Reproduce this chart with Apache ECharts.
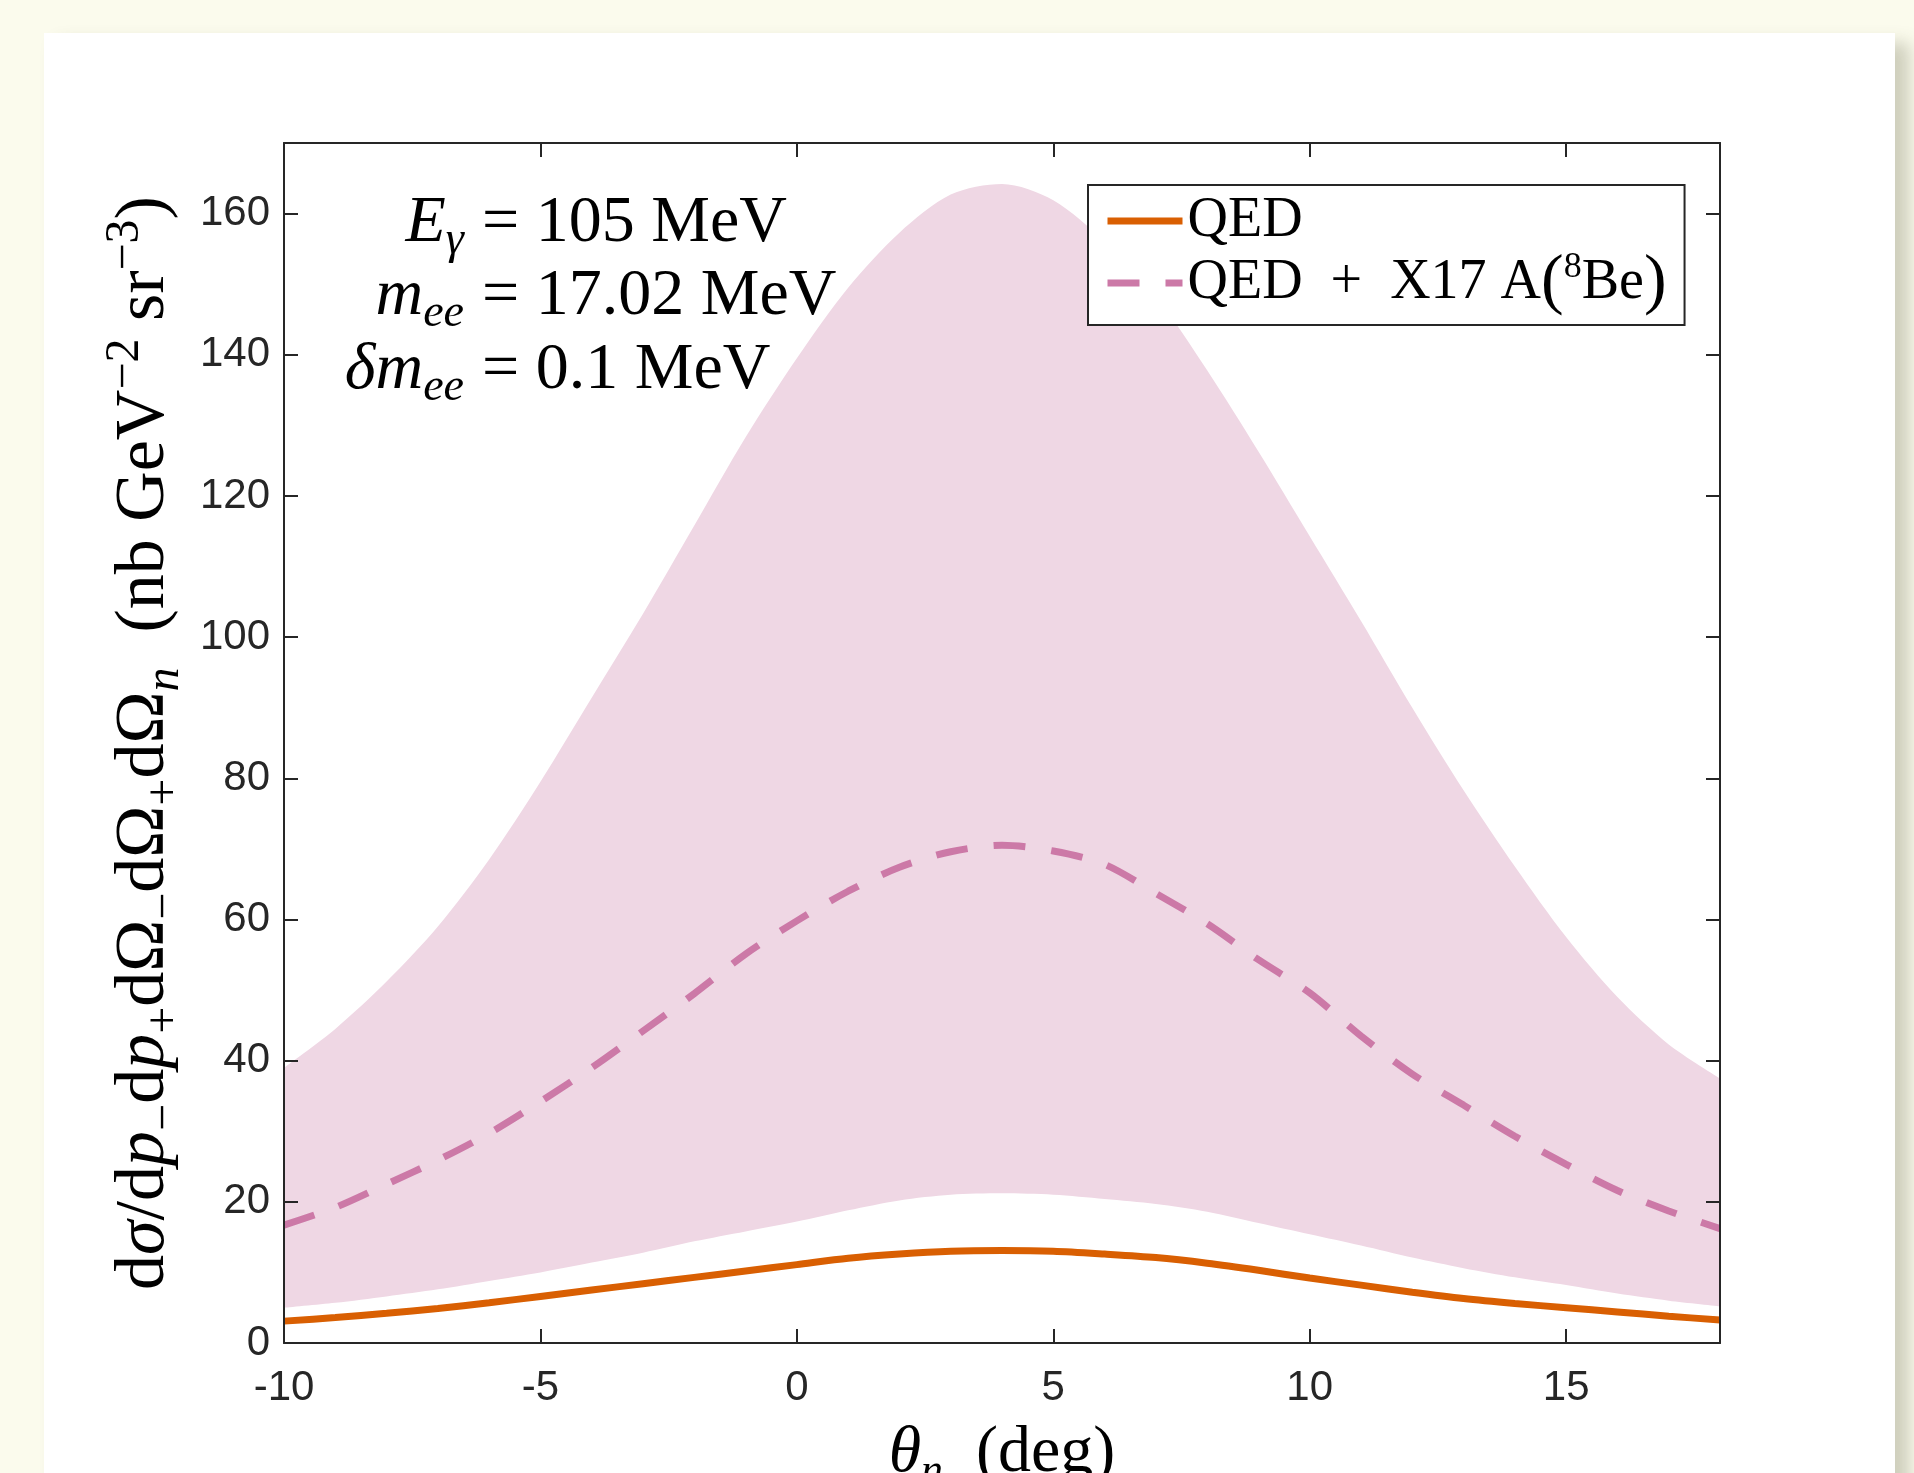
<!DOCTYPE html>
<html>
<head>
<meta charset="utf-8">
<title>X17 angular distribution</title>
<script src="https://cdn.jsdelivr.net/npm/echarts@6/dist/echarts.min.js"></script>
<style>
  html, body { margin: 0; padding: 0; background: #fbfbed; overflow: hidden; }
  #card { position: absolute; left: 44px; top: 33px; width: 1851px; height: 1520px; background: #fff;
          box-shadow: 14px 10px 16px rgba(90, 90, 60, 0.28); }
  #chart { position: absolute; left: 0; top: 0; width: 1914px; height: 1473px; }
</style>
</head>
<body>
<div id="card"></div>
<div id="chart"></div>
<script>
// angle theta_n (deg)
const thetaDeg = [-10, -9, -8, -7, -6, -5, -4, -3, -2, -1, 0, 1, 2, 3, 4,
                  5, 6, 7, 8, 9, 10, 11, 12, 13, 14, 15, 16, 17, 18];
// QED only
const qed = [3.1, 3.6, 4.2, 4.9, 5.7, 6.6, 7.5, 8.4, 9.3, 10.2, 11.1, 12.0, 12.6, 13.0, 13.1,
             13.0, 12.6, 12.1, 11.3, 10.3, 9.2, 8.2, 7.2, 6.3, 5.6, 5.0, 4.4, 3.8, 3.25];
// QED + X17 A(8Be), central value
const qedX17 = [16.7, 19.2, 22.5, 25.9, 29.7, 34.2, 39.0, 44.2, 49.5, 55.1, 59.8, 64.0, 67.4, 69.6, 70.5,
                69.7, 67.8, 63.7, 59.4, 54.3, 49.6, 43.5, 38.1, 33.7, 29.3, 25.3, 21.6, 18.7, 16.2];
// uncertainty band
const bandLow = [5.0, 5.7, 6.6, 7.6, 8.8, 10.0, 11.4, 12.8, 14.4, 15.8, 17.2, 18.8, 20.2, 21.0, 21.2,
                 21.0, 20.4, 19.7, 18.6, 17.0, 15.4, 13.8, 12.1, 10.6, 9.3, 8.2, 7.0, 6.0, 5.2];
const bandHigh = [39, 44.5, 51.2, 59, 68.5, 79.5, 91.4, 103.3, 115.8, 128.3, 139.5, 149.5, 157.3, 162.7, 164.2,
                  161.9, 156, 148.3, 137.8, 126.3, 114.3, 102.3, 90, 78.3, 67.5, 57.5, 49, 42.3, 37.5];

const annLeft = ['{i|E}{sub|γ}', '{i|m}{sub|ee}', '{i|δm}{sub|ee}'];
const annRight = ['{r|= 105 MeV}', '{r|= 17.02 MeV}', '{r|= 0.1 MeV}'];

const SERIF = 'Liberation Serif';
const SANS = 'Liberation Sans';
const AX = '#262626';

// rich styles for the math-like text
function mathRich(size, lh, subSize, subLh, supLh) {
  return {
    r:    { fontFamily: SERIF, fontSize: size, lineHeight: lh, color: '#000' },
    i:    { fontFamily: SERIF, fontStyle: 'italic', fontSize: size, lineHeight: lh, color: '#000' },
    sub:  { fontFamily: SERIF, fontStyle: 'italic', fontSize: subSize, lineHeight: subLh, verticalAlign: 'bottom', color: '#000' },
    subr: { fontFamily: SERIF, fontSize: subSize, lineHeight: subLh, verticalAlign: 'bottom', color: '#000' },
    sup:  { fontFamily: SERIF, fontSize: subSize, lineHeight: supLh, verticalAlign: 'top', color: '#000' }
  };
}
const annRich = mathRich(66, 80, 46, 50, 44);
const yNameRich = mathRich(70, 88, 48, 54, 48);
const xNameRich = mathRich(66, 80, 44, 50, 44);

const pair = (arr) => thetaDeg.map((t, i) => [t, arr[i]]);

const chart = echarts.init(document.getElementById('chart'));

const annGraphics = [];
const baselines = [243, 316, 390];
baselines.forEach((b, k) => {
  annGraphics.push({
    type: 'text', x: 464, y: b - 59, z: 50,
    style: { text: annLeft[k], rich: annRich, align: 'right', verticalAlign: 'top' }
  });
  annGraphics.push({
    type: 'text', x: 482, y: b - 59, z: 50,
    style: { text: annRight[k], rich: annRich, align: 'left', verticalAlign: 'top' }
  });
});

const boxAxis = {
  axisLabel: { show: false },
  axisTick: { inside: true, length: 14, lineStyle: { color: AX, width: 2 } },
  axisLine: { show: true, onZero: false, lineStyle: { color: AX, width: 2 } },
  splitLine: { show: false },
  z: 10
};

const option = {
  animation: false,
  backgroundColor: 'transparent',
  grid: { left: 284, top: 143, width: 1436, height: 1200, containLabel: false, outerBoundsMode: 'none' },
  xAxis: [{
    type: 'value', min: -10, max: 18, interval: 5, position: 'bottom', z: 10,
    axisLine: { show: true, onZero: false, lineStyle: { color: AX, width: 2 } },
    axisTick: { inside: true, length: 14, lineStyle: { color: AX, width: 2 } },
    axisLabel: { margin: 24, fontFamily: SANS, fontSize: 42, color: AX, showMaxLabel: false },
    splitLine: { show: false },
    name: '{i|θ}{sub|n}{r|  (deg)}', nameLocation: 'middle', nameGap: 71,
    nameTextStyle: { rich: xNameRich }
  }, Object.assign({ type: 'value', min: -10, max: 18, interval: 5, position: 'top' }, boxAxis)],
  yAxis: [{
    type: 'value', min: 0, max: 170, interval: 20, position: 'left', z: 10,
    axisLine: { show: true, onZero: false, lineStyle: { color: AX, width: 2 } },
    axisTick: { inside: true, length: 14, lineStyle: { color: AX, width: 2 } },
    axisLabel: { margin: 14, fontFamily: SANS, fontSize: 42, color: AX, showMaxLabel: false },
    splitLine: { show: false },
    name: '{r|d}{i|σ}{r|/d}{i|p}{subr|−}{r|d}{i|p}{subr|+}{r|dΩ}{subr|−}{r|dΩ}{subr|+}{r|dΩ}{sub|n}{r|  (nb GeV}{sup|−2}{r| sr}{sup|−3}{r|)}',
    nameLocation: 'middle', nameRotate: 90, nameGap: 81,
    nameTextStyle: { rich: yNameRich }
  }, Object.assign({ type: 'value', min: 0, max: 170, interval: 20, position: 'right' }, boxAxis)],
  legend: {
    orient: 'vertical', left: 1088, top: 185,
    data: ['QED', 'QED + X17 A(8Be)'],
    selectedMode: false,
    backgroundColor: '#fff', borderColor: AX, borderWidth: 2,
    padding: [8, 18, 8, 16], itemGap: 0, itemWidth: 75, itemHeight: 20, itemTextGap: 13,
    lineStyle: { width: 7 },
    itemStyle: { opacity: 0 },
    formatter: (name) => name === 'QED'
      ? '{a|QED}'
      : '{a|QED  +  X17 A}{p|(}{s|8}{a|Be}{p|)}',
    textStyle: {
      rich: {
        a: { fontFamily: SERIF, fontSize: 56, lineHeight: 66, color: '#000' },
        p: { fontFamily: SERIF, fontSize: 68, lineHeight: 66, color: '#000' },
        s: { fontFamily: SERIF, fontSize: 36, lineHeight: 46, verticalAlign: 'top', color: '#000' }
      }
    }
  },
  graphic: annGraphics,
  series: [
    {
      // upper edge of the band, filled down to the axis
      name: 'bandHigh', type: 'line', smooth: 0.3, symbol: 'none',
      data: pair(bandHigh), lineStyle: { width: 0, opacity: 0 },
      areaStyle: { color: '#efd7e4', opacity: 1 }, silent: true, z: 1
    },
    {
      // lower edge, cleared back to white below it
      name: 'bandLow', type: 'line', smooth: 0.3, symbol: 'none',
      data: pair(bandLow), lineStyle: { width: 0, opacity: 0 },
      areaStyle: { color: '#ffffff', opacity: 1 }, silent: true, z: 1
    },
    {
      name: 'QED', type: 'line', smooth: 0.3, symbol: 'none',
      data: pair(qed), color: '#d95f02',
      lineStyle: { color: '#d95f02', width: 7 }, z: 3
    },
    {
      name: 'QED + X17 A(8Be)', type: 'line', smooth: 0.3, symbol: 'none',
      data: pair(qedX17), color: '#cc79a7',
      lineStyle: { color: '#cc79a7', width: 7, type: [32, 26], cap: 'butt' }, z: 3
    }
  ]
};

chart.setOption(option);
window.addEventListener('resize', () => chart.resize());
</script>
</body>
</html>
